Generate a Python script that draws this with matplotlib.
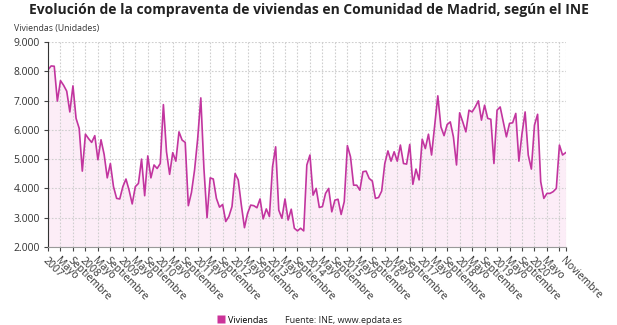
import matplotlib.pyplot as plt
from matplotlib.lines import Line2D
import numpy as np

plt.rcParams["font.family"] = ["Open Sans", "DejaVu Sans"]

# Compraventa mensual de viviendas, enero 2007 - noviembre 2020
viviendas = [
    8050, 8180, 8170, 6980, 7680, 7520, 7320, 6610, 7500, 6390, 6050, 4590,
    5850, 5700, 5570, 5800, 4980, 5660, 5160, 4360, 4850, 4060, 3660, 3640,
    4060, 4320, 3940, 3470, 4060, 4170, 5000, 3750, 5110, 4360, 4800, 4680,
    4850, 6860, 5250, 4480, 5220, 4930, 5930, 5650, 5570, 3410, 3860, 4630,
    5700, 7090, 4680, 3000, 4360, 4320, 3660, 3360, 3450, 2870, 3040, 3380,
    4510, 4290, 3430, 2660, 3150, 3430, 3410, 3340, 3640, 2960, 3300, 3040,
    4740, 5420, 3260, 2980, 3640, 2920, 3290, 2640, 2550, 2640, 2550, 4800,
    5140, 3770, 4000, 3350, 3380, 3830, 4000, 3200, 3600, 3630, 3110, 3550,
    5460, 5080, 4110, 4110, 3940, 4570, 4590, 4340, 4250, 3660, 3690, 3910,
    4850, 5280, 4930, 5250, 4930, 5480, 4850, 4830, 5500, 4140, 4660, 4290,
    5680, 5360, 5850, 5140, 6160, 7160, 6100, 5800, 6180, 6270, 5760, 4800,
    6580, 6270, 5930, 6670, 6610, 6780, 6990, 6330, 6840, 6390, 6360, 4850,
    6670, 6780, 6270, 5760, 6220, 6240, 6560, 4930, 5870, 6610, 5140, 4660,
    6160, 6530, 4230, 3660, 3830, 3830, 3890, 4000, 5480, 5140, 5220,
]
years = [str(y) for y in range(2007, 2021)]
tick_labels = []
for y in years:
    tick_labels += [y, "Mayo", "Septiembre"]
tick_labels[-1] = ""
tick_labels.append("Noviembre")

line_color = "#c2359f"
fill_color = "#fcedf7"
grid_color = "#cfcfcf"

months = np.arange(len(viviendas))
ticks = list(range(0, len(viviendas), 4)) + [len(viviendas) - 1]

fig = plt.figure(figsize=(6.17, 3.25), dpi=100)
ax = fig.add_axes([0.0778, 0.24, 0.839, 0.631])

ax.fill_between(months, viviendas, 2000, color=fill_color, lw=0)
ax.plot(months, viviendas, color=line_color, lw=1.2)

ax.set_xlim(0, len(viviendas) - 1)
ax.set_ylim(2000, 9000)
ax.set_yticks(range(2000, 9001, 1000))
ax.set_yticklabels([f"{v:,}".replace(",", ".") for v in range(2000, 9001, 1000)],
                   fontsize=7.5, color="#333333")
ax.set_xticks(ticks)
ax.set_xticklabels(tick_labels, fontsize=7.5, color="#333333",
                   rotation=-45, ha="left", va="top", rotation_mode="anchor")

ax.grid(True, color=grid_color, ls=(0, (1.5, 1.5)), lw=0.8)
ax.tick_params(axis="both", length=3, color="#444444", pad=3)
for side in ("top", "right"):
    ax.spines[side].set_visible(False)
ax.spines["left"].set_color("#333333")
ax.spines["bottom"].set_color("#999999")

fig.text(0.5, 0.968, "Evolución de la compraventa de viviendas en Comunidad de Madrid, según el INE",
         ha="center", va="center", fontsize=10, fontweight="bold", color="#222222")
fig.text(0.022, 0.912, "Viviendas (Unidades)", ha="left", va="center",
         fontsize=6.3, color="#333333")

handle = Line2D([], [], marker="s", color="none", markerfacecolor="#cc3399",
                markeredgecolor="none", markersize=6)
fig.legend([handle], ["Viviendas"], loc="center left", bbox_to_anchor=(0.338, 0.015),
           frameon=False, fontsize=6.5, handletextpad=0.2, handlelength=1)
fig.text(0.462, 0.015, "Fuente: INE, www.epdata.es", ha="left", va="center",
         fontsize=6.5, color="#222222")

fig.savefig("out.png", dpi=100)
